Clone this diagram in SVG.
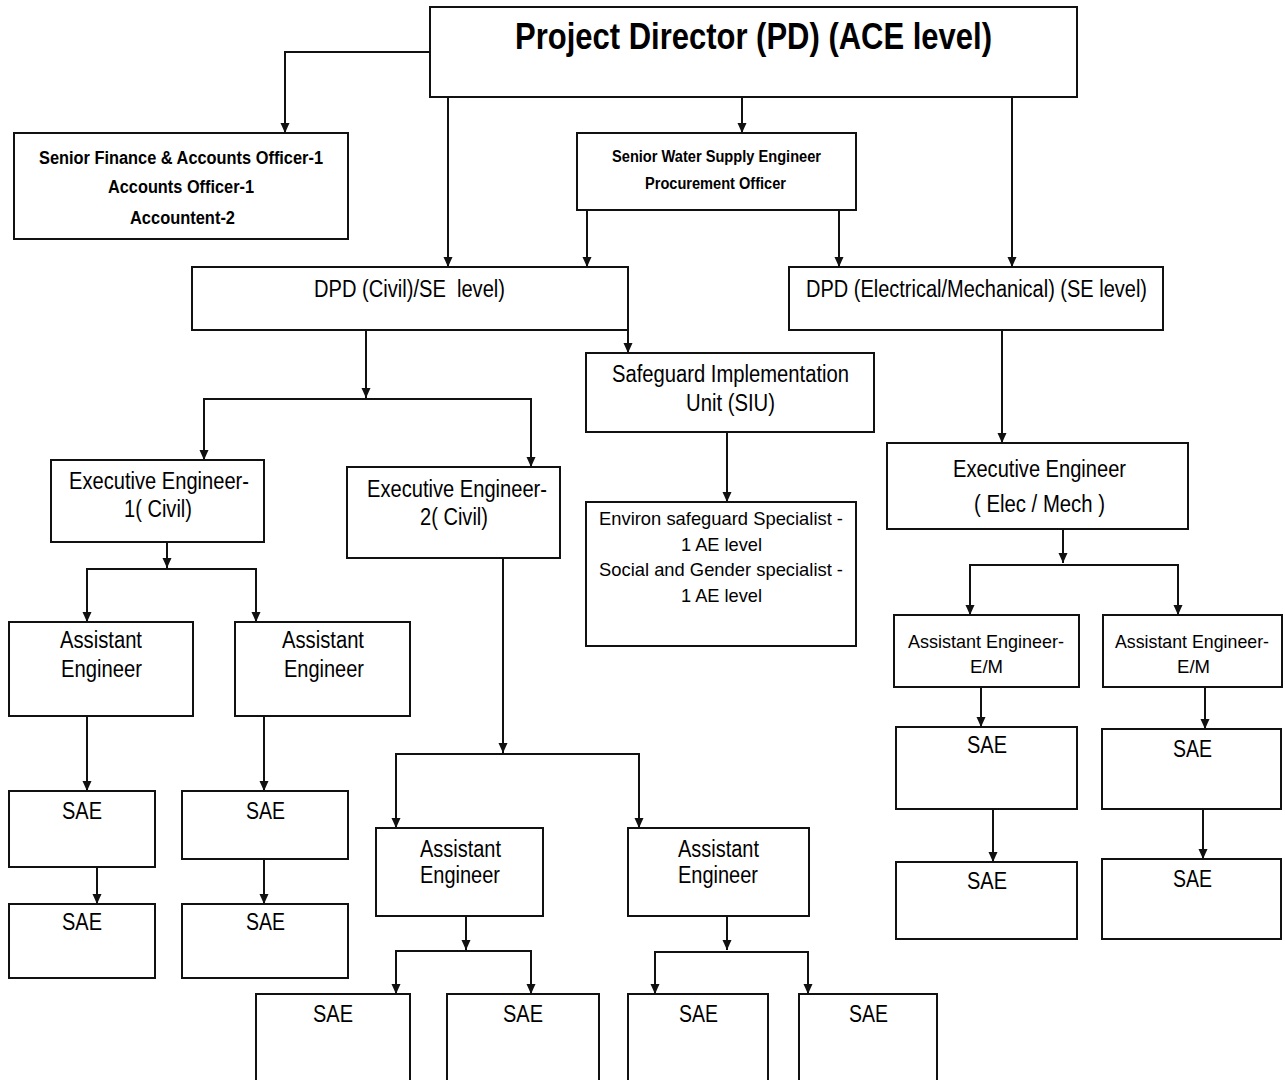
<svg xmlns="http://www.w3.org/2000/svg" width="1285" height="1080" viewBox="0 0 1285 1080">
<style>
.box{fill:#fff;stroke:#111;stroke-width:2}
.t{font-family:"Liberation Sans",Arial,sans-serif;fill:#000}
.m{font-size:23px}
.b{font-weight:bold}
.c{fill:none;stroke:#111;stroke-width:2}
</style>
<defs>
<marker id="ah" viewBox="0 0 10 10" refX="10" refY="5" markerWidth="10" markerHeight="10" markerUnits="userSpaceOnUse" orient="auto">
<path d="M0,0.5 L10,5 L0,9.5 z" fill="#111"/>
</marker>
</defs>
<rect width="1285" height="1080" fill="#fff"/>
<g id="connectors" class="c" marker-end="url(#ah)">
<path d="M430,52 H285 V133"/>
<path d="M742,97 V133"/>
<path d="M448,97 V267"/>
<path d="M587,210 V267"/>
<path d="M839,210 V267"/>
<path d="M1012,97 V267"/>
<path d="M366,330 V398"/>
<path d="M366,399 H204 V460"/>
<path d="M366,399 H531 V467"/>
<path d="M628,330 V353"/>
<path d="M727,432 V502"/>
<path d="M1002,330 V443"/>
<path d="M167,542 V568"/>
<path d="M167,569 H87 V622"/>
<path d="M167,569 H256 V622"/>
<path d="M87,716 V791"/>
<path d="M264,716 V791"/>
<path d="M97,867 V904"/>
<path d="M264,859 V904"/>
<path d="M503,558 V753"/>
<path d="M503,754 H396 V828"/>
<path d="M503,754 H639 V828"/>
<path d="M466,916 V950"/>
<path d="M466,951 H396 V994"/>
<path d="M466,951 H531 V994"/>
<path d="M727,916 V950"/>
<path d="M727,952 H655 V994"/>
<path d="M727,952 H808 V994"/>
<path d="M1063,529 V563"/>
<path d="M1063,565 H970 V615"/>
<path d="M1063,565 H1178 V615"/>
<path d="M981,687 V727"/>
<path d="M1205,687 V729"/>
<path d="M993,809 V862"/>
<path d="M1203,809 V859"/>
</g>
<g id="pd"><rect class="box" x="430" y="7" width="647" height="90"/>
<text class="t b" x="515" y="49" style="font-size:36px" textLength="477" lengthAdjust="spacingAndGlyphs">Project Director (PD) (ACE level)</text></g>
<g id="finance"><rect class="box" x="14" y="133" width="334" height="106"/>
<text class="t b" x="39" y="164" style="font-size:18px" textLength="284" lengthAdjust="spacingAndGlyphs">Senior Finance &amp; Accounts Officer-1</text>
<text class="t b" x="108" y="193" style="font-size:18px" textLength="146" lengthAdjust="spacingAndGlyphs">Accounts Officer-1</text>
<text class="t b" x="130" y="224" style="font-size:18px" textLength="105" lengthAdjust="spacingAndGlyphs">Accountent-2</text></g>
<g id="water"><rect class="box" x="577" y="133" width="279" height="77"/>
<text class="t b" x="612" y="162" style="font-size:16px" textLength="209" lengthAdjust="spacingAndGlyphs">Senior Water Supply Engineer</text>
<text class="t b" x="645" y="189" style="font-size:16px" textLength="141" lengthAdjust="spacingAndGlyphs">Procurement Officer</text></g>
<g id="dpd-civil"><rect class="box" x="192" y="267" width="436" height="63"/>
<text class="t m" x="314" y="297" textLength="191" lengthAdjust="spacingAndGlyphs" xml:space="preserve">DPD (Civil)/SE  level)</text></g>
<g id="dpd-em"><rect class="box" x="789" y="267" width="374" height="63"/>
<text class="t m" x="806" y="297" textLength="341" lengthAdjust="spacingAndGlyphs">DPD (Electrical/Mechanical) (SE level)</text></g>
<g id="siu"><rect class="box" x="586" y="353" width="288" height="79"/>
<text class="t m" x="612" y="382" textLength="237" lengthAdjust="spacingAndGlyphs">Safeguard Implementation</text>
<text class="t m" x="686" y="411" textLength="89" lengthAdjust="spacingAndGlyphs">Unit (SIU)</text></g>
<g id="environ"><rect class="box" x="586" y="502" width="270" height="144"/>
<text class="t" x="599" y="525" style="font-size:19px" textLength="244" lengthAdjust="spacingAndGlyphs">Environ safeguard Specialist -</text>
<text class="t" x="681" y="551" style="font-size:19px" textLength="81" lengthAdjust="spacingAndGlyphs">1 AE level</text>
<text class="t" x="599" y="576" style="font-size:19px" textLength="244" lengthAdjust="spacingAndGlyphs">Social and Gender specialist -</text>
<text class="t" x="681" y="602" style="font-size:19px" textLength="81" lengthAdjust="spacingAndGlyphs">1 AE level</text></g>
<g id="ee-em"><rect class="box" x="887" y="443" width="301" height="86"/>
<text class="t m" x="953" y="477" textLength="173" lengthAdjust="spacingAndGlyphs">Executive Engineer</text>
<text class="t m" x="974" y="512" textLength="131" lengthAdjust="spacingAndGlyphs">( Elec / Mech )</text></g>
<g id="ee1"><rect class="box" x="51" y="460" width="213" height="82"/>
<text class="t m" x="69" y="489" textLength="180" lengthAdjust="spacingAndGlyphs">Executive Engineer-</text>
<text class="t m" x="124" y="517" textLength="68" lengthAdjust="spacingAndGlyphs">1( Civil)</text></g>
<g id="ee2"><rect class="box" x="347" y="467" width="213" height="91"/>
<text class="t m" x="367" y="497" textLength="180" lengthAdjust="spacingAndGlyphs">Executive Engineer-</text>
<text class="t m" x="420" y="525" textLength="68" lengthAdjust="spacingAndGlyphs">2( Civil)</text></g>
<g id="ae1"><rect class="box" x="9" y="622" width="184" height="94"/>
<text class="t m" x="60" y="648" textLength="82" lengthAdjust="spacingAndGlyphs">Assistant</text>
<text class="t m" x="61" y="677" textLength="81" lengthAdjust="spacingAndGlyphs">Engineer</text></g>
<g id="ae2"><rect class="box" x="235" y="622" width="175" height="94"/>
<text class="t m" x="282" y="648" textLength="82" lengthAdjust="spacingAndGlyphs">Assistant</text>
<text class="t m" x="284" y="677" textLength="80" lengthAdjust="spacingAndGlyphs">Engineer</text></g>
<g id="ae3"><rect class="box" x="376" y="828" width="167" height="88"/>
<text class="t m" x="420" y="857" textLength="81" lengthAdjust="spacingAndGlyphs">Assistant</text>
<text class="t m" x="420" y="883" textLength="80" lengthAdjust="spacingAndGlyphs">Engineer</text></g>
<g id="ae4"><rect class="box" x="628" y="828" width="181" height="88"/>
<text class="t m" x="678" y="857" textLength="81" lengthAdjust="spacingAndGlyphs">Assistant</text>
<text class="t m" x="678" y="883" textLength="80" lengthAdjust="spacingAndGlyphs">Engineer</text></g>
<g id="ae-em1"><rect class="box" x="894" y="615" width="185" height="72"/>
<text class="t" x="986" y="648" text-anchor="middle" style="font-size:19px" textLength="156" lengthAdjust="spacingAndGlyphs">Assistant Engineer-</text>
<text class="t" x="970" y="673" style="font-size:19px" textLength="33" lengthAdjust="spacingAndGlyphs">E/M</text></g>
<g id="ae-em2"><rect class="box" x="1103" y="615" width="179" height="72"/>
<text class="t" x="1192" y="648" text-anchor="middle" style="font-size:19px" textLength="154" lengthAdjust="spacingAndGlyphs">Assistant Engineer-</text>
<text class="t" x="1177" y="673" style="font-size:19px" textLength="33" lengthAdjust="spacingAndGlyphs">E/M</text></g>
<g id="sae-l1a"><rect class="box" x="9" y="791" width="146" height="76"/>
<text class="t m" x="62" y="819" textLength="40" lengthAdjust="spacingAndGlyphs">SAE</text></g>
<g id="sae-l2a"><rect class="box" x="182" y="791" width="166" height="68"/>
<text class="t m" x="246" y="819" textLength="39" lengthAdjust="spacingAndGlyphs">SAE</text></g>
<g id="sae-l1b"><rect class="box" x="9" y="904" width="146" height="74"/>
<text class="t m" x="62" y="930" textLength="40" lengthAdjust="spacingAndGlyphs">SAE</text></g>
<g id="sae-l2b"><rect class="box" x="182" y="904" width="166" height="74"/>
<text class="t m" x="246" y="930" textLength="39" lengthAdjust="spacingAndGlyphs">SAE</text></g>
<g id="sae-b1"><rect class="box" x="256" y="994" width="154" height="100"/>
<text class="t m" x="313" y="1022" textLength="40" lengthAdjust="spacingAndGlyphs">SAE</text></g>
<g id="sae-b2"><rect class="box" x="447" y="994" width="152" height="100"/>
<text class="t m" x="503" y="1022" textLength="40" lengthAdjust="spacingAndGlyphs">SAE</text></g>
<g id="sae-b3"><rect class="box" x="628" y="994" width="140" height="100"/>
<text class="t m" x="679" y="1022" textLength="39" lengthAdjust="spacingAndGlyphs">SAE</text></g>
<g id="sae-b4"><rect class="box" x="799" y="994" width="138" height="100"/>
<text class="t m" x="849" y="1022" textLength="39" lengthAdjust="spacingAndGlyphs">SAE</text></g>
<g id="sae-em1a"><rect class="box" x="896" y="727" width="181" height="82"/>
<text class="t m" x="967" y="753" textLength="40" lengthAdjust="spacingAndGlyphs">SAE</text></g>
<g id="sae-em2a"><rect class="box" x="1102" y="729" width="179" height="80"/>
<text class="t m" x="1173" y="757" textLength="39" lengthAdjust="spacingAndGlyphs">SAE</text></g>
<g id="sae-em1b"><rect class="box" x="896" y="862" width="181" height="77"/>
<text class="t m" x="967" y="889" textLength="40" lengthAdjust="spacingAndGlyphs">SAE</text></g>
<g id="sae-em2b"><rect class="box" x="1102" y="859" width="179" height="80"/>
<text class="t m" x="1173" y="887" textLength="39" lengthAdjust="spacingAndGlyphs">SAE</text></g>
</svg>
